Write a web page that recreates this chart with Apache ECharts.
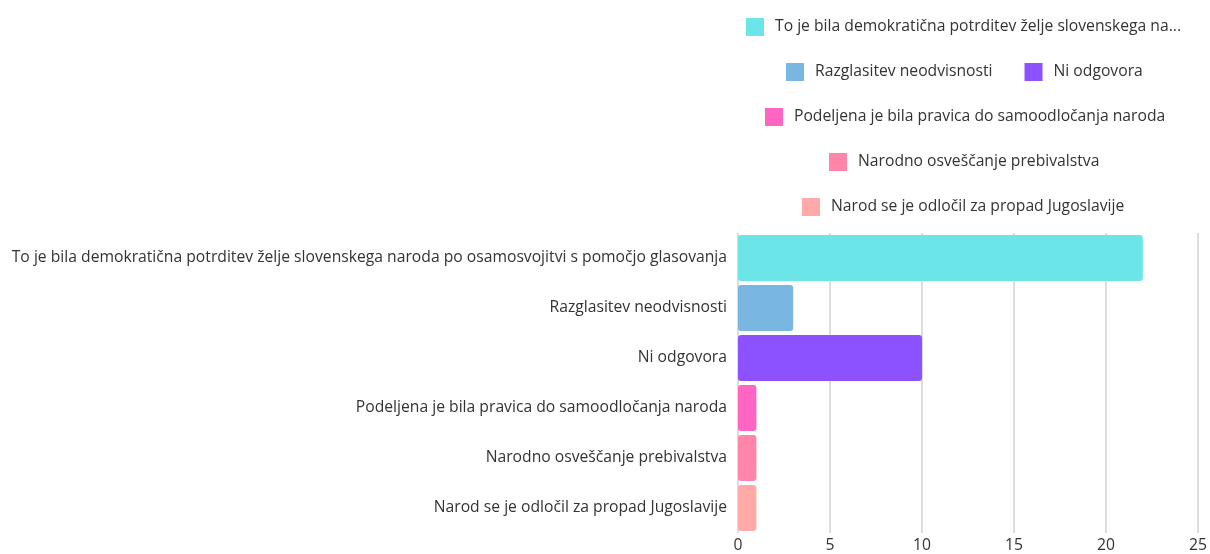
<!DOCTYPE html>
<html>
<head>
<meta charset="utf-8">
<script src="https://cdn.jsdelivr.net/npm/echarts@6/dist/echarts.min.js"></script>
<style>
  html, body { margin: 0; padding: 0; background: #fff; }
  #chart { width: 1210px; height: 554px; }
</style>
</head>
<body>
<div id="chart"></div>
<script>
const categories = [
  "To je bila demokratična potrditev želje slovenskega naroda po osamosvojitvi s pomočjo glasovanja",
  "Razglasitev neodvisnosti",
  "Ni odgovora",
  "Podeljena je bila pravica do samoodločanja naroda",
  "Narodno osveščanje prebivalstva",
  "Narod se je odločil za propad Jugoslavije"
];
const values = [22, 3, 10, 1, 1, 1];
const colors = ["#6ce5e8", "#7ab6e2", "#8c52ff", "#ff66c4", "#ff85a9", "#ffaaa9"];
const xTicks = [0, 5, 10, 15, 20, 25];

// legend rows: which categories go in each row, and where the row starts
const legendRows = [[0], [1, 2], [3], [4], [5]];
const legendLeft = [741, 781, 760, 824, 797];

const font = "Open Sans";
const fs = 15.7;

const series = categories.map((name, i) => ({
  name: name,
  type: "bar",
  stack: "all",
  barCategoryGap: "8%",
  itemStyle: { color: colors[i], borderRadius: 3 },
  data: values.map((v, j) => (j === i ? v : "-"))
}));

const legends = legendRows.map((row, r) => ({
  data: row.map(i => categories[i]),
  left: legendLeft[r],
  top: 13 + r * 45,
  orient: "horizontal",
  itemWidth: 18,
  itemHeight: 18,
  itemGap: 32,
  icon: "rect",
  selectedMode: false,
  textStyle: {
    fontFamily: font,
    fontSize: fs,
    color: "#333",
    padding: [0, 0, 0, 6],
    width: 418,
    overflow: "truncate",
    ellipsis: "..."
  }
}));

const chart = echarts.init(document.getElementById("chart"));
chart.setOption({
  animation: false,
  textStyle: { fontFamily: font },
  legend: legends,
  grid: { left: 738, right: 11, top: 233, bottom: 21, containLabel: false },
  xAxis: {
    type: "value",
    min: xTicks[0],
    max: xTicks[xTicks.length - 1],
    interval: 5,
    axisLine: { show: false },
    axisTick: { show: false },
    axisLabel: { fontFamily: font, fontSize: fs, color: "#333", margin: 5 },
    splitLine: { lineStyle: { color: "#dddddd", width: 2 } }
  },
  yAxis: {
    type: "category",
    inverse: true,
    data: categories,
    axisLine: { show: false },
    axisTick: { show: false },
    axisLabel: { fontFamily: font, fontSize: fs, color: "#333", margin: 11 }
  },
  series: series
});
</script>
</body>
</html>
